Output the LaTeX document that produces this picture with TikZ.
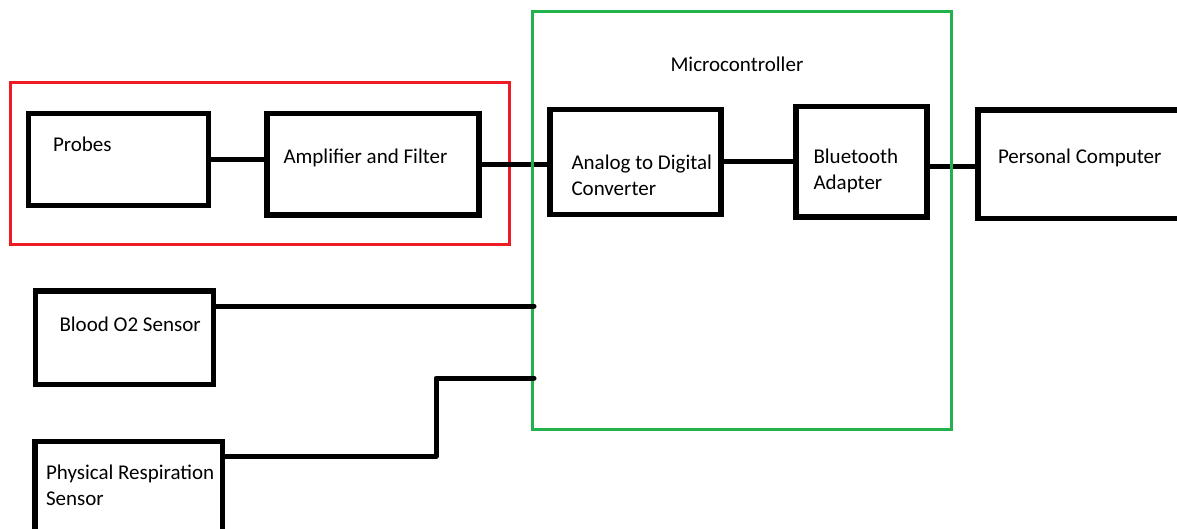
\documentclass[tikz,border=0pt]{standalone}
\usepackage{fontspec}
\setmainfont{Carlito}
\usetikzlibrary{positioning, calc}
\definecolor{paintred}{RGB}{237,28,36}
\definecolor{paintgreen}{RGB}{34,177,76}

\begin{document}
\begin{tikzpicture}[
    x = 1pt, y = -1pt,
    line width = 5pt, line cap = round, line join = round,
    font = \fontsize{21}{26}\selectfont,
    inner sep = 0
  ]
  \tikzstyle {block} = [draw, shape = rectangle, line width = 5.5pt, line cap = butt, line join = miter]
  \tikzstyle {caption} = [anchor = base west, align = left]
  \tikzstyle {group} = [line width = 3pt, line cap = butt, line join = miter]
  \path [use as bounding box, fill = white] (0,0) rectangle (1177,529);
  % sensor front end
  \draw [group, paintred] (10.5,82.5) rectangle (509,245);
  % place blocks
  \path node (0) [block, minimum width = 180pt, minimum height = 92pt] at (118.5,159.5) {};
  \path node (1) [block, minimum width = 212pt, minimum height = 101.5pt] at (373,164.25) {};
  \path node (2) [block, minimum width = 171pt, minimum height = 105pt] at (635.5,162) {};
  \path node (3) [block, minimum width = 131pt, minimum height = 110.5pt] at (861.5,161.75) {};
  \path node (4) [block, minimum width = 222pt, minimum height = 108.5pt] at (1089,164.25) {};
  \path node (5) [block, minimum width = 178pt, minimum height = 93.5pt] at (124.5,337.75) {};
  \path node (6) [block, minimum width = 187.5pt, minimum height = 118.5pt] at (128.75,500.75) {};
  % block texts (multi-line ones sit on their last line)
  \node (t0) [caption] at (50.5,151.5) {Probes};
  \node (t1) [caption] at (281,164) {Amplifier and Filter};
  \node (t2) [caption] at (569,195.5) {Analog to Digital\\Converter};
  \node (t3) [caption] at (811,190) {Bluetooth\\Adapter};
  \node (t4) [caption] at (995.5,164) {Personal Computer};
  \node (t5) [caption] at (57,331) {Blood O2 Sensor};
  \node (t6) [caption] at (43.5,505.5) {Physical Respiration\\Sensor};
  \node (t7) [caption] at (668,72) {Microcontroller};
  % place edges
  \foreach \a/\b in {0/1, 1/2, 2/3}
    { \draw (\a.east) -- (\b.west |- \a.east) ; } ;
  \draw ([yshift=-5pt]3.east) -- ([yshift=-5pt]3.east -| 4.west);
  % microcontroller
  \draw [group, paintgreen] (532.5,11.5) rectangle (951,429);
  \coordinate (g1) at (534,306);
  \coordinate (g2) at (534,378);
  \coordinate (r) at (436,456);
  \draw (5.east |- g1) -- (g1);
  \draw (6.east |- r) -- (r) |- (g2);
\end{tikzpicture}
\end{document}
